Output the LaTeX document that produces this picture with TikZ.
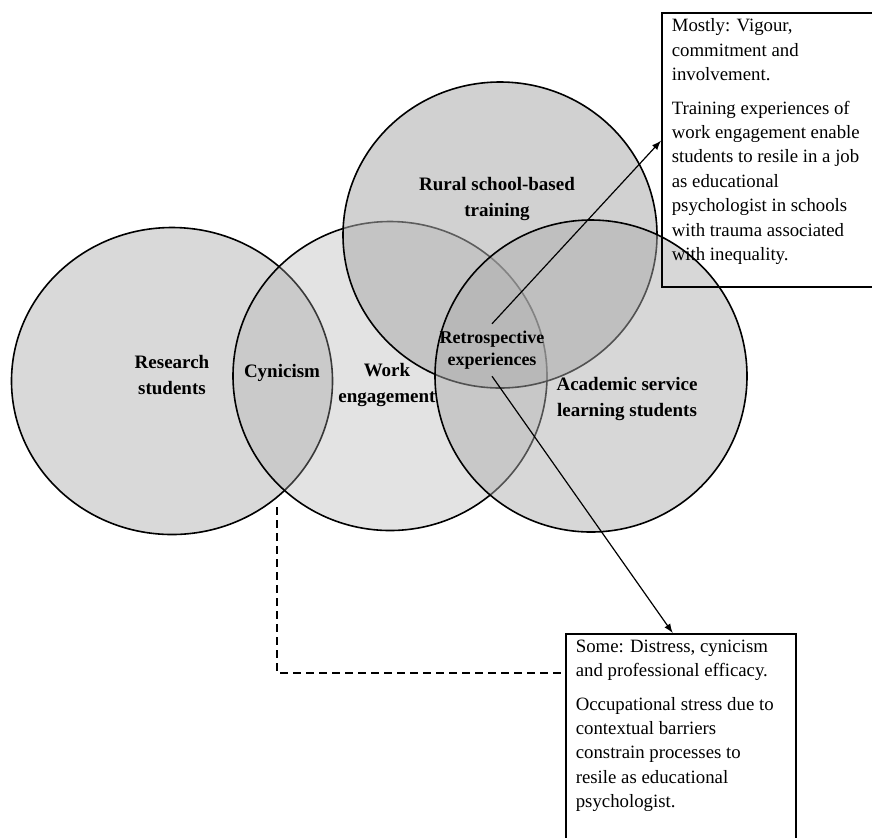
\documentclass[tikz,border=0pt]{standalone}
\usepackage{fontspec}
\setmainfont{Liberation Serif}
\usetikzlibrary{shapes, positioning, arrows, calc}

\newcommand{\notefont}{\fontsize{9.4}{12.2}\selectfont}

\begin{document}
\begin{tikzpicture}[
          x=0.5pt, y=-0.5pt,
          venn/.style={ellipse, draw, line width=0.8pt, inner sep=0pt, fill=black!33},
          tag/.style={font=\fontsize{9.5}{13}\selectfont\bfseries, align=center},
          note/.style={draw, line width=0.8pt, anchor=north west, inner xsep=5pt, inner ysep=3pt, align=left, font=\notefont},
          link/.style={-latex, line width=0.6pt}
        ]
        \clip (0,0) rectangle (872,837);
        % the four sets
        \node[venn, fill opacity=0.45, minimum width=160.5pt, minimum height=153.5pt] (research) at (172,381) {};
        \node[venn, fill opacity=0.33, minimum width=157pt, minimum height=154.5pt] (work) at (390,376) {};
        \node[venn, fill opacity=0.55, minimum width=157pt, minimum height=153pt] (rural) at (500,235) {};
        \node[venn, fill opacity=0.48, minimum width=156pt, minimum height=156pt] (academic) at (591,376) {};

        % labels
        \node[tag] (researchtag) at (172,375) {Research\\students};
        \node[tag] (cynicism) at (282,373) {Cynicism};
        \node[tag] (worktag) at (387,385) {Work\\engagement};
        \node[tag] (ruraltag) at (497,199) {Rural school-based\\training};
        \node[tag, font=\fontsize{9}{11}\selectfont\bfseries] (retro) at (492,350) {Retrospective\\experiences};
        \node[tag] (academictag) at (627,399) {Academic service\\learning students};

        % notes
        \node[note] (mostly) at (661,12) {\parbox[t][131pt][t]{96pt}{\raggedright
          Mostly: Vigour,\\commitment and\\involvement.\par\vspace{4.5pt}
          Training experiences of\\work engagement enable\\students to resile in a job\\as educational\\psychologist in schools\\with trauma associated\\with inequality.}};
        \node[note] (some) at (565,633) {\parbox[t][102pt][t]{105pt}{\raggedright
          Some: Distress, cynicism\\and professional efficacy.\par\vspace{4.5pt}
          Occupational stress due to\\contextual barriers\\constrain processes to\\resile as educational\\psychologist.}};

        % connectors
        \draw[link] (retro.north) -- ($(mostly.north west)!0.467!(mostly.south west)$);
        \draw[link] (retro.south) -- ($(some.north west)!0.465!(some.north east)$);
        \coordinate (cynfoot) at (277,507);
        \draw[dash pattern=on 4pt off 2.5pt, line width=0.6pt] (cynfoot) |- ($(some.north west)+(0,40)$);
\end{tikzpicture}
\end{document}
